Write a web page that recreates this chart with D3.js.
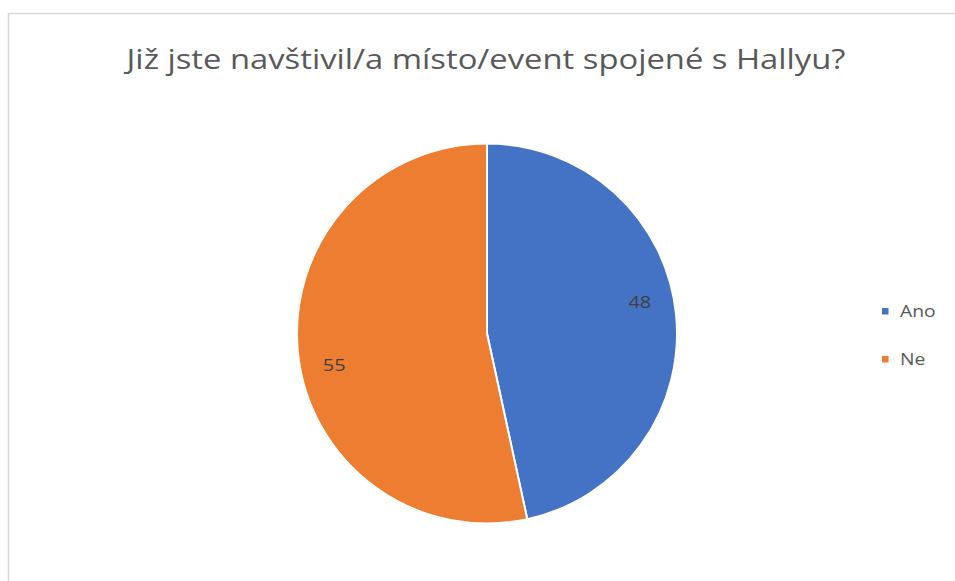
<!DOCTYPE html>
<html>
<head>
<meta charset="utf-8">
<script src="https://cdn.jsdelivr.net/npm/d3@7"></script>
<style>
  html, body { margin: 0; padding: 0; background: #ffffff; }
  svg { display: block; }
</style>
</head>
<body>
<svg id="chart" width="955" height="581"></svg>
<script>
// Survey answers
const categories = ["Ano", "Ne"];
const counts = [48, 55];
const colors = ["#4472C4", "#ED7D31"];
const chartTitle = "Již jste navštivil/a místo/event spojené s Hallyu?";

const W = 955, H = 581;
const svg = d3.select("#chart");
const font = "'Open Sans', 'Noto Sans', sans-serif";
const textStretch = 1.17; // slightly widened lettering used throughout the chart

// chart area frame
svg.append("rect")
  .attr("x", 8.5).attr("y", 13.5)
  .attr("width", W + 20).attr("height", H + 20)
  .attr("fill", "#ffffff")
  .attr("stroke", "#d9d9d9").attr("stroke-width", 1.5);

// draws a horizontally widened text anchored at (x, y)
function wideText(sel, x, y) {
  return sel.attr("transform", `translate(${x},${y}) scale(${textStretch},1)`);
}

// title
wideText(svg.append("text"), 486, 69)
  .attr("text-anchor", "middle")
  .attr("font-family", font)
  .attr("font-size", 28)
  .attr("fill", "#595959")
  .text(chartTitle);

// pie
const cx = 487, cy = 333.5, R = 190;
const pie = d3.pie().sort(null).value(d => d.v);
const data = categories.map((c, i) => ({ c, v: counts[i], color: colors[i] }));
const arcs = pie(data);
const arc = d3.arc().innerRadius(0).outerRadius(R);

const g = svg.append("g").attr("transform", `translate(${cx},${cy})`);
g.selectAll("path.slice")
  .data(arcs)
  .enter().append("path")
  .attr("class", "slice")
  .attr("d", arc)
  .attr("fill", d => d.data.color)
  .attr("stroke", "#ffffff")
  .attr("stroke-width", 2)
  .attr("stroke-linejoin", "round");

// value labels, placed slightly before each slice's mid-angle
const labelR = 156;
const labelShift = -5.4 * Math.PI / 180;
g.selectAll("text.val")
  .data(arcs)
  .enter().append("text")
  .attr("class", "val")
  .each(function (d) {
    const a = (d.startAngle + d.endAngle) / 2 + labelShift;
    wideText(d3.select(this), labelR * Math.sin(a), -labelR * Math.cos(a));
  })
  .attr("dy", "0.35em")
  .attr("text-anchor", "middle")
  .attr("font-family", font)
  .attr("font-size", 17)
  .attr("fill", "#404040")
  .text(d => d.data.v);

// legend
const legendY = d3.scaleBand().domain(categories).range([287, 383]);
const item = svg.append("g").selectAll("g.item")
  .data(data)
  .enter().append("g")
  .attr("class", "item")
  .attr("transform", d => `translate(882,${legendY(d.c) + legendY.bandwidth() / 2})`);
item.append("rect")
  .attr("x", 0).attr("y", -3)
  .attr("width", 6.5).attr("height", 6.5)
  .attr("fill", d => d.color);
item.append("text")
  .each(function () { wideText(d3.select(this), 18, 5.5); })
  .attr("font-family", font)
  .attr("font-size", 16.5)
  .attr("fill", "#595959")
  .text(d => d.c);
</script>
</body>
</html>
